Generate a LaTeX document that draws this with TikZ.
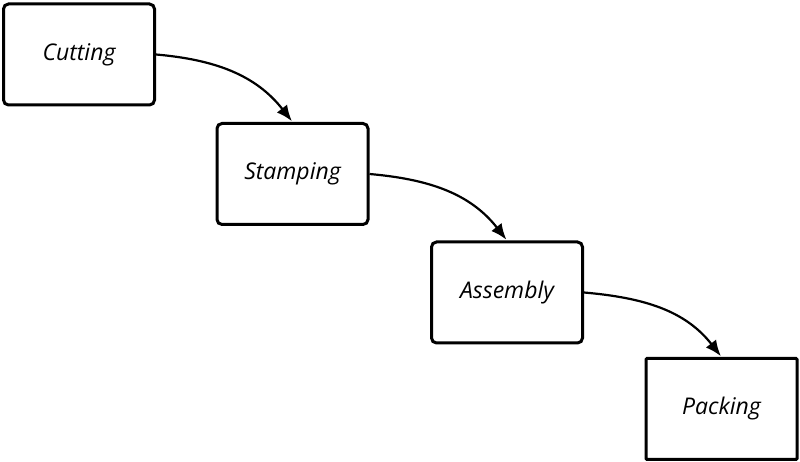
\documentclass[tikz,border=0pt]{standalone}
\usepackage{fontspec}
\setmainfont{Open Sans}
\usetikzlibrary{arrows.meta}
\tikzset{
  stepbox/.style={draw=black, line width=3pt, rounded corners=5pt, fill=white,
    minimum width=151pt, minimum height=101pt, inner sep=0pt,
    font=\fontsize{23}{26}\selectfont\itshape},
  flow/.style={line width=2.2pt, -{Latex[length=16pt,width=13pt]}, shorten >=1pt}
}
\begin{document}
\begin{tikzpicture}[x=1pt,y=1pt]
\useasboundingbox (0,0) rectangle (800,462);
\node[stepbox] (cut) at (79,407.5) {Cutting};
\node[stepbox] (stamp) at (292.5,288) {Stamping};
\node[stepbox] (asm) at (507,169.5) {Assembly};
\node[stepbox, rounded corners=1pt] (pack) at (721.5,53) {Packing};
\draw[flow] (cut.east) to[out=-5,in=128] (stamp.north);
\draw[flow] (stamp.east) to[out=-5,in=128] (asm.north);
\draw[flow] (asm.east) to[out=-5,in=128] (pack.north);
\end{tikzpicture}
\end{document}
